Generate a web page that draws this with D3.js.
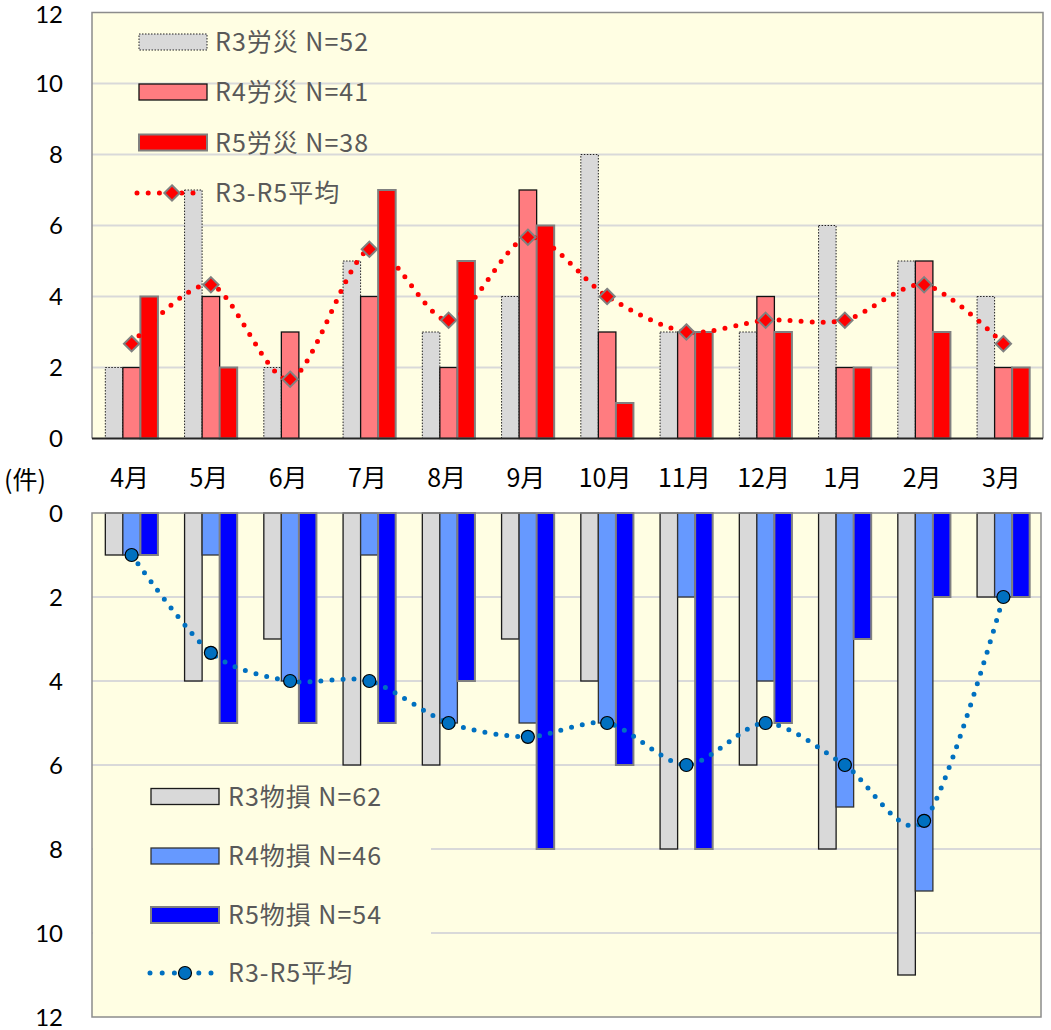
<!DOCTYPE html>
<html><head><meta charset="utf-8">
<script src="https://cdn.jsdelivr.net/npm/d3@7"></script>
<style>body{margin:0;background:#fff;}svg{display:block;}</style>
</head><body>
<script>
// ---- data ----
const months = ["4月","5月","6月","7月","8月","9月","10月","11月","12月","1月","2月","3月"];
const yTicks = [0,2,4,6,8,10,12];
const r3Rosai = [2,7,2,5,3,4,8,3,3,6,5,4];
const r4Rosai = [2,4,3,4,2,7,3,3,4,2,5,2];
const r5Rosai = [4,2,0,7,5,6,1,3,3,2,3,2];
const avgRosai = [2.67,4.33,1.67,5.33,3.33,5.67,4,3,3.33,3.33,4.33,2.67];
const r3Busson = [1,4,3,6,6,3,4,8,6,8,11,2];
const r4Busson = [1,1,4,1,5,5,5,2,4,7,9,2];
const r5Busson = [1,5,5,5,4,8,6,8,5,3,2,2];
const avgBusson = [1,3.33,4,4,5,5.33,5,6,5,6,7.33,2];
const topLegend = ["R3労災 N=52","R4労災 N=41","R5労災 N=38","R3-R5平均"];
const botLegend = ["R3物損 N=62","R4物損 N=46","R5物損 N=54","R3-R5平均"];
const unitLabel = "(件)";

const W = 1051, H = 1030;
const BG = "#fffee3";
const svg = d3.select("body").append("svg").attr("width", W).attr("height", H);
svg.append("rect").attr("width", W).attr("height", H).attr("fill", "#fff");

const L = 92, R = 1043;
const x = d3.scaleBand().domain(months).range([L, R]).paddingInner(0).paddingOuter(0);
const sub = d3.scaleBand().domain([0,1,2]).range([-26.3, 26.3]);
const yTop = d3.scaleLinear().domain([0,12]).range([438.5, 12.5]);
const yBot = d3.scaleLinear().domain([0,12]).range([513, 1017]);

const latin = "Lato, 'Noto Sans', sans-serif";
const cjk = "'Noto Sans CJK JP', 'Noto Sans', sans-serif";

// ---------- TOP PANEL ----------
const gt = svg.append("g");
gt.append("rect").attr("x", L).attr("y", yTop(12)).attr("width", R-L).attr("height", yTop(0)-yTop(12)).attr("fill", BG);
gt.selectAll("line.grid").data(yTicks.filter(d=>d>0 && d<12)).enter().append("line")
  .attr("x1", L).attr("x2", R).attr("y1", d=>yTop(d)).attr("y2", d=>yTop(d))
  .attr("stroke", "#d9d9d9").attr("stroke-width", 2);

const topSeries = [
  {vals: r3Rosai, fill: "#d9d9d9", stroke: "#222", sw: 1, dash: "1.5,1.5"},
  {vals: r4Rosai, fill: "#ff7c80", stroke: "#111", sw: 1.3, dash: null},
  {vals: r5Rosai, fill: "#ff0000", stroke: "#808080", sw: 2, dash: null}
];
topSeries.forEach((s, si) => {
  gt.selectAll(null).data(s.vals.map((v,i)=>({v, m: months[i]})).filter(d=>d.v>0)).enter().append("rect")
    .attr("x", d => x(d.m) + x.bandwidth()/2 + sub(si))
    .attr("width", sub.bandwidth())
    .attr("y", d => yTop(d.v))
    .attr("height", d => yTop(0) - yTop(d.v))
    .attr("fill", s.fill).attr("stroke", s.stroke).attr("stroke-width", s.sw)
    .attr("stroke-dasharray", s.dash);
});
// frame
gt.append("path").attr("d", `M${L},${yTop(0)}V${yTop(12)}H${R}V${yTop(0)}`)
  .attr("fill", "none").attr("stroke", "#8c8c8c").attr("stroke-width", 1.5);
gt.append("line").attr("x1", L).attr("x2", R).attr("y1", yTop(0)).attr("y2", yTop(0))
  .attr("stroke", "#262626").attr("stroke-width", 2.2);

const lineTop = d3.line().x((d,i)=>x(months[i]) + x.bandwidth()/2).y(d=>yTop(d)).curve(d3.curveCardinal.tension(0.15));
gt.append("path").attr("d", lineTop(avgRosai)).attr("fill", "none").attr("stroke", "#ff0000")
  .attr("stroke-width", 5).attr("stroke-linecap", "round").attr("stroke-dasharray", "0,11");
const diamond = d3.symbol().type(d3.symbolDiamond2).size(150);
gt.selectAll(null).data(avgRosai).enter().append("path")
  .attr("d", diamond)
  .attr("transform", (d,i)=>`translate(${x(months[i]) + x.bandwidth()/2},${yTop(d)})`)
  .attr("fill", "#ff0000").attr("stroke", "#808080").attr("stroke-width", 2);

// top y axis labels
gt.selectAll(null).data(yTicks).enter().append("text")
  .attr("x", 63).attr("y", d=>yTop(d) + (d===12 ? 2 : 0)).attr("dy", "0.36em").attr("text-anchor", "end")
  .attr("font-family", latin).attr("font-size", 24).attr("fill", "#000").text(d=>d);

// top legend
const tl = gt.append("g");
const tlY = [42, 92, 142.5, 193];
topSeries.forEach((s, i) => {
  tl.append("rect").attr("x", 139).attr("y", tlY[i]-8).attr("width", 68).attr("height", 16)
    .attr("fill", s.fill).attr("stroke", s.stroke).attr("stroke-width", s.sw).attr("stroke-dasharray", s.dash);
});
tl.append("line").attr("x1", 137).attr("x2", 204).attr("y1", tlY[3]).attr("y2", tlY[3])
  .attr("stroke", "#ff0000").attr("stroke-width", 5).attr("stroke-linecap", "round").attr("stroke-dasharray", "0,11.2");
tl.append("path").attr("d", diamond).attr("transform", `translate(172,${tlY[3]})`)
  .attr("fill", "#ff0000").attr("stroke", "#808080").attr("stroke-width", 2);
tl.selectAll(null).data(topLegend).enter().append("text")
  .attr("x", 215).attr("y", (d,i)=>tlY[i]).attr("dy", "0.36em")
  .attr("font-family", cjk).attr("font-size", 25).attr("letter-spacing", 1).attr("fill", "#595959").text(d=>d);

// month labels
svg.selectAll(null).data(months).enter().append("text")
  .attr("x", d => x(d) + x.bandwidth()/2 - 2).attr("y", 478).attr("dy", "0.36em").attr("text-anchor", "middle")
  .attr("font-family", cjk).attr("font-size", 25).attr("fill", "#000").text(d=>d);
svg.append("text").attr("x", 4).attr("y", 480).attr("dy", "0.36em")
  .attr("font-family", cjk).attr("font-size", 25).attr("fill", "#000").text(unitLabel);

// ---------- BOTTOM PANEL ----------
const gb = svg.append("g");
gb.append("rect").attr("x", L).attr("y", yBot(0)).attr("width", R-2-L).attr("height", yBot(12)-yBot(0)).attr("fill", BG);
gb.selectAll(null).data(yTicks.filter(d=>d>0 && d<12)).enter().append("line")
  .attr("x1", L).attr("x2", R-2).attr("y1", d=>yBot(d)).attr("y2", d=>yBot(d))
  .attr("stroke", "#d9d9d9").attr("stroke-width", 2);

const botSeries = [
  {vals: r3Busson, fill: "#d9d9d9", stroke: "#1a1a1a", sw: 1.3},
  {vals: r4Busson, fill: "#6699ff", stroke: "#333", sw: 1.3},
  {vals: r5Busson, fill: "#0000ff", stroke: "#808080", sw: 2}
];
botSeries.forEach((s, si) => {
  gb.selectAll(null).data(s.vals.map((v,i)=>({v, m: months[i]})).filter(d=>d.v>0)).enter().append("rect")
    .attr("x", d => x(d.m) + x.bandwidth()/2 + sub(si))
    .attr("width", sub.bandwidth())
    .attr("y", yBot(0))
    .attr("height", d => yBot(d.v) - yBot(0))
    .attr("fill", s.fill).attr("stroke", s.stroke).attr("stroke-width", s.sw);
});

// bottom legend (with background)
const blY = [796.5, 856, 915, 973];
const bl = gb.append("g");
bl.append("rect").attr("x", L+1).attr("y", 770).attr("width", 430-L).attr("height", 245).attr("fill", BG);

const lineBot = d3.line().x((d,i)=>x(months[i]) + x.bandwidth()/2).y(d=>yBot(d)).curve(d3.curveCardinal.tension(0.15));
gb.append("path").attr("d", lineBot(avgBusson)).attr("fill", "none").attr("stroke", "#0070c0")
  .attr("stroke-width", 5).attr("stroke-linecap", "round").attr("stroke-dasharray", "0,11");
gb.selectAll(null).data(avgBusson).enter().append("circle")
  .attr("cx", (d,i)=>x(months[i]) + x.bandwidth()/2).attr("cy", d=>yBot(d)).attr("r", 6.5)
  .attr("fill", "#0070c0").attr("stroke", "#000").attr("stroke-width", 1.2);

botSeries.forEach((s, i) => {
  bl.append("rect").attr("x", 151).attr("y", blY[i]-8).attr("width", 68).attr("height", 16)
    .attr("fill", s.fill).attr("stroke", s.stroke).attr("stroke-width", s.sw);
});
bl.append("line").attr("x1", 150).attr("x2", 215).attr("y1", blY[3]).attr("y2", blY[3])
  .attr("stroke", "#0070c0").attr("stroke-width", 5).attr("stroke-linecap", "round").attr("stroke-dasharray", "0,12.2");
bl.append("circle").attr("cx", 185).attr("cy", blY[3]).attr("r", 6.5)
  .attr("fill", "#0070c0").attr("stroke", "#000").attr("stroke-width", 1.2);
bl.selectAll(null).data(botLegend).enter().append("text")
  .attr("x", 228).attr("y", (d,i)=>blY[i]).attr("dy", "0.36em")
  .attr("font-family", cjk).attr("font-size", 25).attr("letter-spacing", 1).attr("fill", "#595959").text(d=>d);

gb.append("rect").attr("x", L).attr("y", yBot(0)).attr("width", R-2-L).attr("height", yBot(12)-yBot(0))
  .attr("fill", "none").attr("stroke", "#8c8c8c").attr("stroke-width", 1.5);

gb.selectAll(null).data(yTicks).enter().append("text")
  .attr("x", 63).attr("y", d=>yBot(d)).attr("dy", "0.36em").attr("text-anchor", "end")
  .attr("font-family", latin).attr("font-size", 24).attr("fill", "#000").text(d=>d);
</script>
</body></html>
